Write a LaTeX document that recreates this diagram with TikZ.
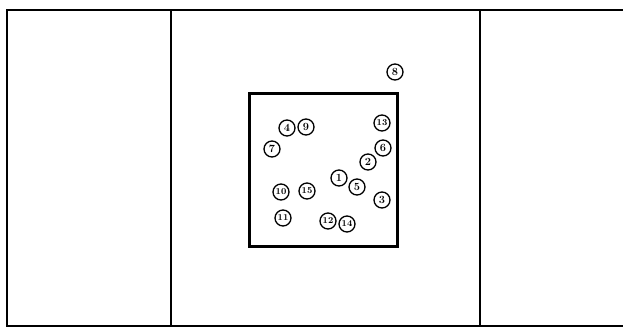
\documentclass[tikz,border=0pt]{standalone}
\begin{document}
\begin{tikzpicture}[x=1pt,y=-1pt,
  frame/.style={line width=1.8pt},
  inner/.style={line width=3pt},
  num/.style={circle,draw,line width=1.3pt,inner sep=0pt,minimum size=16pt,font=\bfseries\fontsize{11}{11}\selectfont},
  two/.style={num,font=\bfseries\fontsize{9}{9}\selectfont}]
\useasboundingbox (0,0) rectangle (623,330);
\draw[frame] (623,10) -- (7,10) -- (7,326) -- (623,326);
\draw[frame] (171,10) -- (171,326);
\draw[frame] (480,10) -- (480,326);
\draw[inner] (249,93) rectangle (397,246);
\node[num] (n8) at (395,72) {8};
\node[num] (n4) at (287,128) {4};
\node[num] (n9) at (306,127) {9};
\node[two] (n13) at (382,123) {13};
\node[num] (n7) at (272,149) {7};
\node[num] (n6) at (383,148) {6};
\node[num] (n2) at (368,162) {2};
\node[num] (n1) at (339,178) {1};
\node[num] (n5) at (357,187) {5};
\node[two] (n10) at (281,192) {10};
\node[two] (n15) at (307,191) {15};
\node[num] (n3) at (382,200) {3};
\node[two] (n11) at (283,218) {11};
\node[two] (n12) at (328,221) {12};
\node[two] (n14) at (347,224) {14};
\end{tikzpicture}
\end{document}
